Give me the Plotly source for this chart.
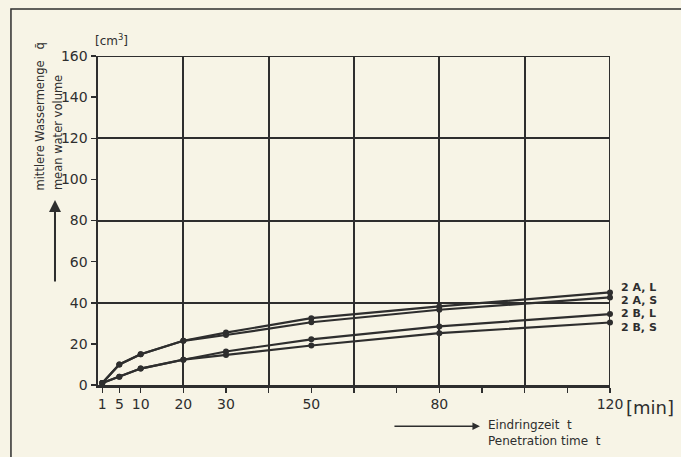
import plotly.graph_objects as go

# ---- data ----
t_min = [1, 5, 10, 20, 30, 50, 80, 120]
series_names = ["2 A, L", "2 A, S", "2 B, L", "2 B, S"]
v_2AL = [1, 10, 15, 21.5, 25.5, 32.5, 38.2, 45.0]
v_2AS = [1, 10, 15, 21.5, 24.3, 30.5, 36.6, 42.6]
v_2BL = [1, 4, 8, 12.3, 16.3, 22.2, 28.5, 34.5]
v_2BS = [1, 4, 8, 12.3, 14.6, 19.2, 25.2, 30.4]
x_tick_vals = [1, 5, 10, 20, 30, 40, 50, 60, 70, 80, 90, 100, 110, 120]
x_tick_text = ["1", "5", "10", "20", "30", "", "50", "", "", "80", "", "", "", "120"]
y_tick_vals = [0, 20, 40, 60, 80, 100, 120, 140, 160]
x_range = [0, 120]
y_range = [0, 160]

INK = "#2e2e2e"
PAPER = "#f7f4e6"
FONT = "DejaVu Sans"

fig = go.Figure()
for name, vals in zip(series_names, [v_2AL, v_2AS, v_2BL, v_2BS]):
    fig.add_trace(go.Scatter(
        x=t_min, y=vals, mode="lines+markers", name=name,
        line=dict(color=INK, width=2.2),
        marker=dict(color=INK, size=6),
        showlegend=False, cliponaxis=False, hoverinfo="skip",
    ))

# series labels on the right
label_y = [47.2, 40.9, 35.0, 28.2]
for name, ly in zip(series_names, label_y):
    fig.add_annotation(x=1, xref="paper", y=ly, yref="y", text="<b>" + name + "</b>",
                       showarrow=False, xanchor="left", yanchor="middle", xshift=9,
                       font=dict(family=FONT, size=11, color=INK))

# y-axis title (two rotated lines)
fig.add_annotation(x=-0.1133, y=0.585, xref="paper", yref="paper",
                   text="mittlere Wassermenge   q\u0304",
                   textangle=-90, showarrow=False,
                   xanchor="center", yanchor="bottom",
                   font=dict(family=FONT, size=11.5, color=INK))
fig.add_annotation(x=-0.078, y=0.585, xref="paper", yref="paper",
                   text="mean water volume",
                   textangle=-90, showarrow=False,
                   xanchor="center", yanchor="bottom",
                   font=dict(family=FONT, size=11.5, color=INK))
fig.add_annotation(x=-0.01, y=1.08, xref="paper", yref="paper",
                   text="[cm<sup>3</sup>]", showarrow=False,
                   font=dict(family=FONT, size=12, color=INK))
# up arrow
fig.add_annotation(x=-0.084, y=0.562, xref="paper", yref="paper", text="",
                   showarrow=True, ax=0, ay=83, arrowhead=2, arrowsize=1.2,
                   arrowwidth=2, arrowcolor=INK)
# x arrow
fig.add_annotation(x=0.746, y=-0.125, xref="paper", yref="paper", text="",
                   showarrow=True, ax=-87, ay=0, arrowhead=2, arrowsize=1,
                   arrowwidth=1.5, arrowcolor=INK)
fig.add_annotation(x=0.757, y=-0.095, xref="paper", yref="paper",
                   text="Eindringzeit  t<br>Penetration time  t",
                   showarrow=False, align="left", xanchor="left", yanchor="top",
                   font=dict(family=FONT, size=12, color=INK))
fig.add_annotation(x=1, y=-0.068, xref="paper", yref="paper", text="[min]",
                   showarrow=False, xanchor="left", yanchor="middle", xshift=14,
                   font=dict(family=FONT, size=18, color=INK))

# outer frame (top and left edge)
fig.add_shape(type="rect", xref="paper", yref="paper",
              x0=-0.170, x1=2, y0=-2, y1=1.143,
              line=dict(color=INK, width=1.5), layer="below")
# right and top borders of the grid (at the axis range ends)
fig.add_shape(type="line", xref="x", yref="y", x0=x_range[1], x1=x_range[1],
              y0=y_range[0], y1=y_range[1], line=dict(color=INK, width=2))
fig.add_shape(type="line", xref="x", yref="y", x0=x_range[0], x1=x_range[1],
              y0=y_range[1], y1=y_range[1], line=dict(color=INK, width=2))

fig.update_layout(
    width=681, height=457,
    margin=dict(l=98, r=71, t=56, b=72),
    paper_bgcolor=PAPER, plot_bgcolor=PAPER,
    font=dict(family=FONT, size=14, color=INK),
    hovermode=False,
    xaxis=dict(range=x_range, tickvals=x_tick_vals, ticktext=x_tick_text,
               showgrid=False, zeroline=False, showline=True, linecolor=INK, linewidth=2.5,
               ticks="outside", ticklen=5, tickwidth=1.5, tickcolor=INK,
               tickfont=dict(family=FONT, size=14, color=INK),
               minor=dict(tick0=0, dtick=20, showgrid=True, gridcolor=INK, gridwidth=2, ticks="")),
    yaxis=dict(range=y_range, tickvals=y_tick_vals,
               showgrid=False, zeroline=False, showline=True, linecolor=INK, linewidth=2.5,
               ticks="outside", ticklen=5, tickwidth=1.5, tickcolor=INK,
               tickfont=dict(family=FONT, size=14, color=INK),
               minor=dict(tick0=0, dtick=40, showgrid=True, gridcolor=INK, gridwidth=2, ticks="")),
)

fig.write_html("out.html", config={"displayModeBar": False, "staticPlot": True},
               post_script="document.body.style.margin='0';document.body.style.overflow='hidden';")
